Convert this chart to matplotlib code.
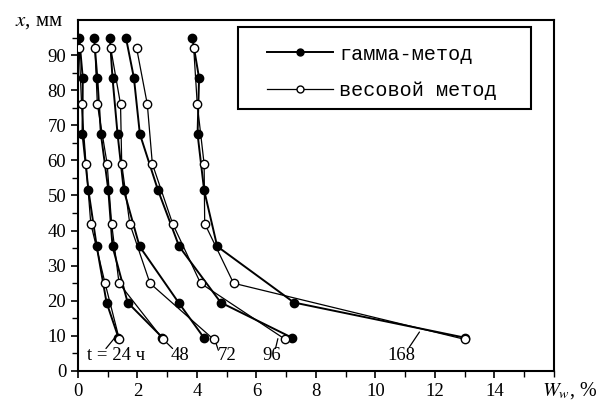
import matplotlib
matplotlib.use("Agg")
import matplotlib.pyplot as plt
from matplotlib.patches import Rectangle
from matplotlib.ticker import MultipleLocator

plt.rcParams['font.family'] = ['Liberation Serif', 'DejaVu Serif']
plt.rcParams['mathtext.fontset'] = 'stix'

# глубина, мм
depth_gamma = [95, 83.5, 67.5, 51.5, 35.5, 19.5, 9.5]
depth_weight = [92, 76, 59, 42, 25, 9]

# влажность W, % (гамма-метод)
w_gamma_24 = [0.04, 0.16, 0.15, 0.35, 0.63, 0.96, 1.36]
w_gamma_48 = [0.54, 0.65, 0.77, 1.02, 1.16, 1.67, 2.84]
w_gamma_72 = [1.07, 1.16, 1.33, 1.54, 2.07, 3.38, 4.23]
w_gamma_96 = [1.61, 1.88, 2.08, 2.69, 3.40, 4.80, 7.19]
w_gamma_168 = [3.84, 4.07, 4.02, 4.24, 4.68, 7.26, 13.0]

# влажность W, % (весовой метод)
w_weight_24 = [0.04, 0.12, 0.27, 0.43, 0.91, 1.39]
w_weight_48 = [0.57, 0.65, 0.98, 1.13, 1.38, 2.86]
w_weight_72 = [1.10, 1.43, 1.47, 1.74, 2.42, 4.56]
w_weight_96 = [1.97, 2.33, 2.50, 3.18, 4.12, 6.97]
w_weight_168 = [3.89, 4.01, 4.24, 4.26, 5.23, 13.01]

# подписи кривых: текст, позиция текста, конец выноски
curve_labels = ["t = 24 ч", "48", "72", "96", "168"]
label_xy = [(1.27, 4.4), (3.42, 4.4), (5.0, 4.4), (6.5, 4.4), (10.87, 4.4)]
leader_from = [(0.94, 6.4), (3.18, 6.4), (4.72, 5.9), (6.64, 6.4), (11.14, 6.8)]
leader_to = [(1.24, 9.5), (2.95, 8.3), (4.62, 8.4), (6.72, 9.2), (11.48, 11.1)]

gamma_sets = [w_gamma_24, w_gamma_48, w_gamma_72, w_gamma_96, w_gamma_168]
weight_sets = [w_weight_24, w_weight_48, w_weight_72, w_weight_96, w_weight_168]

fig = plt.figure(figsize=(6.07, 4.05), dpi=100)
ax = fig.add_axes([0.1285, 0.084, 0.784, 0.8667])

for i, w in enumerate(gamma_sets):
    ax.plot(w, depth_gamma, color='black', lw=1.4, marker='o', ms=6,
            mfc='black', mec='black', zorder=3,
            label='гамма-метод' if i == 0 else None)
for i, w in enumerate(weight_sets):
    ax.plot(w, depth_weight, color='black', lw=0.9, marker='o', ms=6,
            mfc='white', mec='black', mew=1.0, zorder=4,
            label='весовой метод' if i == 0 else None)

for txt, xy, p0, p1 in zip(curve_labels, label_xy, leader_from, leader_to):
    ax.text(xy[0], xy[1], txt, fontsize=13.5, ha='center', va='center')
    ax.annotate('', xy=p1, xytext=p0,
                arrowprops=dict(arrowstyle='-', color='black', lw=0.9,
                                shrinkA=0, shrinkB=0))

ax.set_xlim(0, 16)
ax.set_ylim(0, 100)
ax.set_xticks(range(0, 16, 2))
ax.set_yticks(range(0, 91, 10))
ax.xaxis.set_minor_locator(MultipleLocator(1))
ax.set_yticks(range(5, 100, 10), minor=True)
ax.tick_params(which='major', direction='out', length=5, width=1.2, labelsize=13.5)
ax.tick_params(which='minor', direction='out', length=4, width=1.0)
for s in ax.spines.values():
    s.set_linewidth(1.5)

# рамка легенды
ax.add_patch(Rectangle((0.336, 0.746), 0.616, 0.234, transform=ax.transAxes,
                       facecolor='white', edgecolor='black', lw=1.5, zorder=5))
leg = ax.legend(loc='upper left', bbox_to_anchor=(0.397, 0.93),
                prop={'family': 'Liberation Mono', 'size': 14.5},
                handlelength=3.3, handletextpad=0.3, labelspacing=0.85,
                borderpad=0, borderaxespad=0, frameon=False, numpoints=1)
leg.set_zorder(6)
for h in leg.legend_handles:
    h.set_markersize(5)

fig.text(0.025, 0.947, '$x$, мм', fontsize=15, ha='left', va='center')
fig.text(0.893, 0.035, '$W_w$, %', fontsize=14.5, ha='left', va='center')

fig.savefig('out.png', dpi=100)
